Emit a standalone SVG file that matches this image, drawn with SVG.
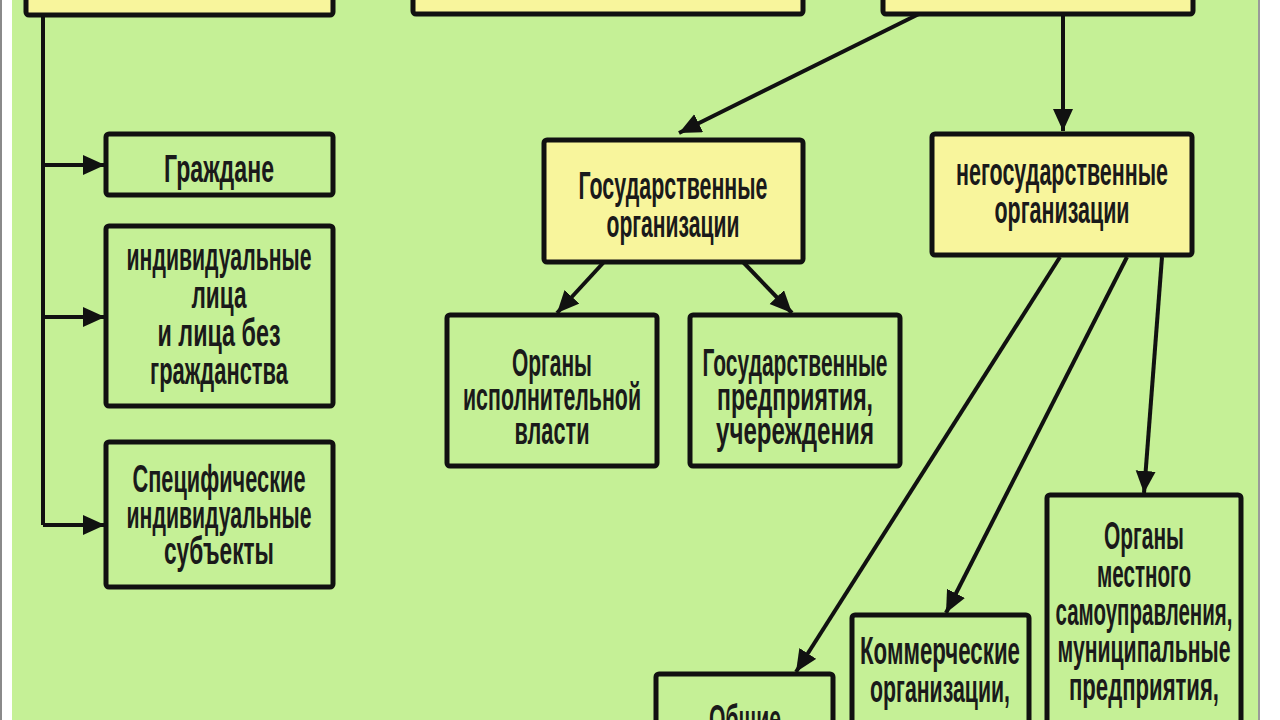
<svg xmlns="http://www.w3.org/2000/svg" width="1280" height="720" viewBox="0 0 1280 720">
<defs>
<style>
.bg{fill:#c5f096}
.yb{fill:#f8f59c;stroke:#111;stroke-width:5}
.gb{fill:#c5f096;stroke:#111;stroke-width:5}
.ln{stroke:#111;stroke-width:4;fill:none}
text{font-family:"Liberation Sans Narrow","Liberation Sans","DejaVu Sans Condensed",sans-serif;font-size:38px;font-weight:bold;fill:#1a1a1a;text-anchor:middle}
</style>
<marker id="ah" markerUnits="userSpaceOnUse" markerWidth="24" markerHeight="22" refX="22" refY="10" orient="auto">
<path d="M0,0 L22,10 L0,20 z" fill="#111"/>
</marker>
</defs>
<rect x="0" y="0" width="1280" height="720" fill="#ffffff"/>
<rect x="0" y="0" width="2" height="720" fill="#8a8a8a"/>
<rect class="bg" x="12" y="0" width="1246" height="720"/>
<rect x="1258" y="0" width="2" height="720" fill="#9a9a9a"/>

<g id="connectors">
<path class="ln" d="M43,15 V525"/>
<path class="ln" d="M43,165 H105" marker-end="url(#ah)"/>
<path class="ln" d="M43,317 H105" marker-end="url(#ah)"/>
<path class="ln" d="M43,525 H105" marker-end="url(#ah)"/>
<path class="ln" d="M931,8 L679,133" marker-end="url(#ah)"/>
<path class="ln" d="M1063,15 V131" marker-end="url(#ah)"/>
<path class="ln" d="M604,262 L557,313" marker-end="url(#ah)"/>
<path class="ln" d="M743,262 L792,313" marker-end="url(#ah)"/>
<path class="ln" d="M1060,257 L796,672" marker-end="url(#ah)"/>
<path class="ln" d="M1127,257 L946,613" marker-end="url(#ah)"/>
<path class="ln" d="M1162,257 L1144,493" marker-end="url(#ah)"/>
</g>

<g id="top-left"><rect class="yb" x="26" y="-20" width="307" height="35" rx="3"/></g>
<g id="top-middle"><rect class="yb" x="413" y="-20" width="390" height="34" rx="3"/></g>
<g id="top-right"><rect class="yb" x="883" y="-20" width="310" height="34" rx="3"/></g>

<g id="citizens">
<rect class="gb" x="106" y="134" width="227" height="61" rx="3"/>
<text x="219" y="182" textLength="110" lengthAdjust="spacingAndGlyphs">Граждане</text>
</g>
<g id="individuals">
<rect class="gb" x="106" y="226" width="227" height="180" rx="3"/>
<text x="219" y="270" textLength="185" lengthAdjust="spacingAndGlyphs">индивидуальные</text>
<text x="219" y="308" textLength="55" lengthAdjust="spacingAndGlyphs">лица</text>
<text x="219" y="346" textLength="123" lengthAdjust="spacingAndGlyphs">и лица без</text>
<text x="219" y="384" textLength="138" lengthAdjust="spacingAndGlyphs">гражданства</text>
</g>
<g id="specific">
<rect class="gb" x="106" y="442" width="227" height="145" rx="3"/>
<text x="219" y="492" textLength="173" lengthAdjust="spacingAndGlyphs">Специфические</text>
<text x="219" y="528" textLength="185" lengthAdjust="spacingAndGlyphs">индивидуальные</text>
<text x="219" y="564" textLength="110" lengthAdjust="spacingAndGlyphs">субъекты</text>
</g>
<g id="state-orgs">
<rect class="yb" x="544" y="140" width="259" height="122" rx="3"/>
<text x="673" y="199" textLength="189" lengthAdjust="spacingAndGlyphs">Государственные</text>
<text x="673" y="237" textLength="133" lengthAdjust="spacingAndGlyphs">организации</text>
</g>
<g id="nonstate-orgs">
<rect class="yb" x="932" y="134" width="260" height="121" rx="3"/>
<text x="1062" y="185" textLength="212" lengthAdjust="spacingAndGlyphs">негосударственные</text>
<text x="1062" y="223" textLength="135" lengthAdjust="spacingAndGlyphs">организации</text>
</g>
<g id="executive">
<rect class="gb" x="447" y="315" width="210" height="151" rx="3"/>
<text x="552" y="376" textLength="80" lengthAdjust="spacingAndGlyphs">Органы</text>
<text x="552" y="410" textLength="178" lengthAdjust="spacingAndGlyphs">исполнительной</text>
<text x="552" y="444" textLength="75" lengthAdjust="spacingAndGlyphs">власти</text>
</g>
<g id="state-enterprises">
<rect class="gb" x="690" y="315" width="210" height="151" rx="3"/>
<text x="795" y="376" textLength="185" lengthAdjust="spacingAndGlyphs">Государственные</text>
<text x="795" y="410" textLength="156" lengthAdjust="spacingAndGlyphs">предприятия,</text>
<text x="795" y="444" textLength="158" lengthAdjust="spacingAndGlyphs">учереждения</text>
</g>
<g id="public">
<rect class="gb" x="656" y="674" width="177" height="80" rx="3"/>
<text x="745" y="732" textLength="72" lengthAdjust="spacingAndGlyphs">Общие</text>
</g>
<g id="commercial">
<rect class="gb" x="852" y="615" width="177" height="140" rx="3"/>
<text x="940" y="664" textLength="160" lengthAdjust="spacingAndGlyphs">Коммерческие</text>
<text x="940" y="702" textLength="140" lengthAdjust="spacingAndGlyphs">организации,</text>
</g>
<g id="local">
<rect class="gb" x="1047" y="495" width="194" height="260" rx="3"/>
<text x="1144" y="549" textLength="80" lengthAdjust="spacingAndGlyphs">Органы</text>
<text x="1144" y="587" textLength="94" lengthAdjust="spacingAndGlyphs">местного</text>
<text x="1144" y="625" textLength="177" lengthAdjust="spacingAndGlyphs">самоуправления,</text>
<text x="1144" y="662" textLength="173" lengthAdjust="spacingAndGlyphs">муниципальные</text>
<text x="1144" y="700" textLength="150" lengthAdjust="spacingAndGlyphs">предприятия,</text>
</g>
</svg>
